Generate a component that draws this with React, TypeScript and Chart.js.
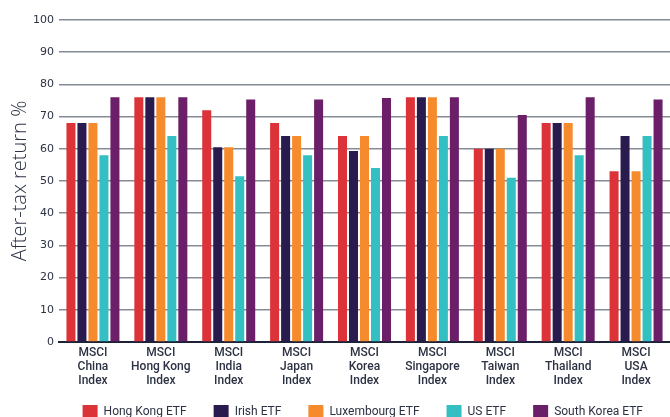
import React, { useEffect, useRef } from "react";
import { Chart, registerables } from "chart.js";

Chart.register(...registerables);

const categories: string[][] = [
  ["MSCI", "China", "Index"],
  ["MSCI", "Hong Kong", "Index"],
  ["MSCI", "India", "Index"],
  ["MSCI", "Japan", "Index"],
  ["MSCI", "Korea", "Index"],
  ["MSCI", "Singapore", "Index"],
  ["MSCI", "Taiwan", "Index"],
  ["MSCI", "Thailand", "Index"],
  ["MSCI", "USA", "Index"],
];

const hongKongETF = [68, 76, 72, 68, 64, 76, 60, 68, 53];
const irishETF = [68, 76, 60.5, 64, 59.3, 76, 60, 68, 64];
const luxembourgETF = [68, 76, 60.5, 64, 64, 76, 60, 68, 53];
const usETF = [58, 64, 51.5, 58, 54, 64, 51, 58, 64];
const southKoreaETF = [76, 76, 75.3, 75.3, 75.8, 76, 70.5, 76, 75.3];

const seriesNames = ["Hong Kong ETF", "Irish ETF", "Luxembourg ETF", "US ETF", "South Korea ETF"];
const seriesColors = ["#dc3338", "#2a1b4f", "#f68b2d", "#34bfc3", "#6b1f68"];
const seriesData = [hongKongETF, irishETF, luxembourgETF, usETF, southKoreaETF];

const FONT = "Roboto, 'Open Sans', sans-serif";
const TEXT = "#2c3243";

const legendShift = {
  id: "legendShift",
  afterLayout(chart: any) {
    if (chart.legend) {
      chart.legend.top -= 11;
      chart.legend.bottom -= 11;
    }
  },
};

export default function App() {
  const ref = useRef<HTMLCanvasElement | null>(null);
  useEffect(() => {
    if (!ref.current) return;
    const chart = new Chart(ref.current, {
      type: "bar",
      data: {
        labels: categories,
        datasets: seriesData.map((d, i) => ({
          label: seriesNames[i],
          data: d,
          backgroundColor: seriesColors[i],
          borderWidth: 0,
          barPercentage: 0.82,
          categoryPercentage: 0.81,
        })),
      },
      plugins: [legendShift],
      options: {
        animation: false,
        responsive: false,
        maintainAspectRatio: false,
        layout: { padding: { top: 20, right: 0, left: 0, bottom: -22 } },
        plugins: {
          tooltip: { enabled: false },
          legend: {
            position: "bottom",
            align: "end",
            labels: {
              boxWidth: 15,
              boxHeight: 13,
              padding: 27,
              color: TEXT,
              font: { family: FONT, size: 12 },
            },
          },
        },
        scales: {
          x: {
            afterFit: (scale: any) => {
              scale.height = 47;
            },
            grid: { display: false, drawTicks: false },
            border: { display: true, color: "#1d2236", width: 2 },
            ticks: {
              color: TEXT,
              font: { family: FONT, size: 12, weight: "500", lineHeight: 1.15 },
              padding: 4,
              maxRotation: 0,
              autoSkip: false,
            },
          },
          y: {
            min: 0,
            max: 100,
            afterFit: (scale: any) => {
              scale.width = 59;
            },
            ticks: {
              stepSize: 10,
              color: TEXT,
              font: { family: "'DejaVu Sans', sans-serif", size: 11 },
              padding: 5,
            },
            grid: { color: "#868c95", lineWidth: 1.5, drawTicks: false },
            border: { display: false },
            title: {
              display: true,
              text: "After-tax return %",
              color: TEXT,
              font: { family: "'Open Sans', sans-serif", size: 20, weight: "300", lineHeight: 1.2 },
              padding: { top: 8, bottom: 0 },
            },
          },
        },
      },
    });
    return () => chart.destroy();
  }, []);
  return (
    <div style={{ position: "fixed", left: 0, top: 0, width: 670, height: 417, background: "#fff" }}>
      <canvas ref={ref} width={670} height={417} />
    </div>
  );
}
